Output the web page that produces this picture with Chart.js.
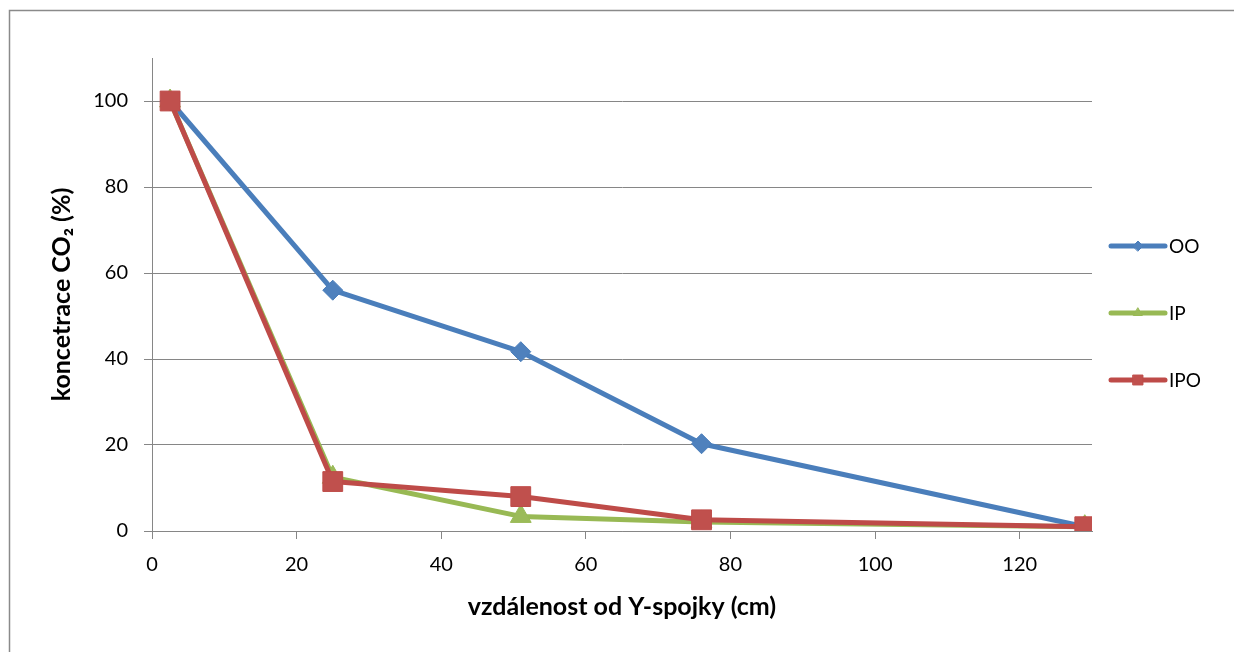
<!DOCTYPE html>
<html>
<head>
<meta charset="utf-8">
<script src="https://cdn.jsdelivr.net/npm/chart.js"></script>
<style>
  body { margin: 0; background: #fff; }
  #wrap { width: 1234px; height: 652px; }
</style>
</head>
<body>
<div id="wrap"><canvas id="co2Chart" width="1234" height="652"></canvas></div>
<script>
// distances from the Y-connector (cm) and CO2 concentrations (%)
const distances = [2.5, 25, 51, 76, 129];
const ooValues = [100, 56, 41.7, 20.3, 1];
const ipValues = [100, 12.5, 3.4, 2.1, 1];
const ipoValues = [100, 11.5, 8, 2.6, 1];
const seriesNames = ["OO", "IP", "IPO"];
const xTickValues = [0, 20, 40, 60, 80, 100, 120];
const yTickValues = [0, 20, 40, 60, 80, 100];

const FONT = "Lato, 'Liberation Sans', sans-serif";
const GRID = "#868686";

function toPoints(values) {
  return values.map((v, i) => ({ x: distances[i], y: v }));
}

// outer frame like the Excel chart border
const framePlugin = {
  id: "frame",
  beforeDraw(chart) {
    const ctx = chart.ctx;
    ctx.save();
    ctx.fillStyle = "#fff";
    ctx.fillRect(0, 0, chart.width, chart.height);
    ctx.strokeStyle = "#8a8a8a";
    ctx.lineWidth = 1.5;
    ctx.strokeRect(9.5, 10.5, chart.width + 20, chart.height + 20);
    ctx.restore();
  },
};

// legend on the right: line + marker + name
const sideLegend = {
  id: "sideLegend",
  afterDraw(chart) {
    const ctx = chart.ctx;
    const rows = [246, 313, 380];
    chart.data.datasets.forEach((ds, i) => {
      const y = rows[i];
      ctx.save();
      ctx.strokeStyle = ds.borderColor;
      ctx.lineWidth = 5;
      ctx.lineCap = "round";
      ctx.beginPath();
      ctx.moveTo(1111, y);
      ctx.lineTo(1165, y);
      ctx.stroke();
      ctx.fillStyle = ds.pointBackgroundColor;
      ctx.strokeStyle = ds.pointBorderColor;
      ctx.lineWidth = 1;
      Chart.helpers.drawPoint(ctx, {
        pointStyle: ds.pointStyle,
        radius: ds.legendRadius,
        borderWidth: 1,
        rotation: 0,
      }, 1138, y);
      ctx.fillStyle = "#000";
      ctx.font = "19px " + FONT;
      ctx.textBaseline = "middle";
      ctx.textAlign = "left";
      ctx.fillText(ds.label, 1169, y + 1);
      ctx.restore();
    });
  },
};

new Chart(document.getElementById("co2Chart"), {
  type: "scatter",
  data: {
    datasets: [
      {
        label: seriesNames[0],
        data: toPoints(ooValues),
        borderColor: "#4A7EBB",
        pointBackgroundColor: "#4F81BD",
        pointBorderColor: "#4A7EBB",
        pointStyle: "rectRot",
        pointRadius: 10,
        legendRadius: 5,
        order: 3,
      },
      {
        label: seriesNames[1],
        data: toPoints(ipValues),
        borderColor: "#98B954",
        pointBackgroundColor: "#9BBB59",
        pointBorderColor: "#98B954",
        pointStyle: "triangle",
        pointRadius: 12,
        legendRadius: 5,
        order: 2,
      },
      {
        label: seriesNames[2],
        data: toPoints(ipoValues),
        borderColor: "#BE4B48",
        pointBackgroundColor: "#C0504D",
        pointBorderColor: "#BE4B48",
        pointStyle: "rect",
        pointRadius: 14,
        legendRadius: 7,
        order: 1,
      },
    ],
  },
  options: {
    responsive: false,
    animation: false,
    showLine: true,
    layout: { padding: { left: 0, top: 58, right: 142, bottom: 0 } },
    elements: {
      line: { borderWidth: 5, borderJoinStyle: "round", borderCapStyle: "round", tension: 0 },
      point: { borderWidth: 1, hoverRadius: 10 },
    },
    plugins: {
      legend: { display: false },
      tooltip: { enabled: false },
    },
    scales: {
      x: {
        type: "linear",
        min: 0,
        max: 130,
        afterBuildTicks: (s) => { s.ticks = xTickValues.map((v) => ({ value: v })); },
        afterFit: (s) => { s.height = 121; },
        border: { color: GRID, width: 1 },
        grid: { drawOnChartArea: false, drawTicks: true, tickLength: 8, color: GRID },
        ticks: { color: "#000", padding: 14, font: { family: FONT, size: 20 } },
        title: {
          display: true,
          text: "vzdálenost od Y-spojky (cm)",
          color: "#000",
          padding: { top: 0, bottom: 30 },
          font: { family: FONT, size: 25, weight: "bold" },
        },
      },
      y: {
        min: 0,
        max: 110,
        afterBuildTicks: (s) => { s.ticks = yTickValues.map((v) => ({ value: v })); },
        afterFit: (s) => { s.width = 152; },
        border: { color: GRID, width: 1 },
        grid: { color: GRID, tickLength: 8, lineWidth: 1 },
        ticks: { color: "#000", padding: 16, font: { family: FONT, size: 20 } },
        title: {
          display: true,
          text: "koncetrace CO₂ (%)",
          color: "#000",
          padding: { top: 47, bottom: 0 },
          font: { family: FONT, size: 25, weight: "bold" },
        },
      },
    },
  },
  plugins: [framePlugin, sideLegend],
});
</script>
</body>
</html>
